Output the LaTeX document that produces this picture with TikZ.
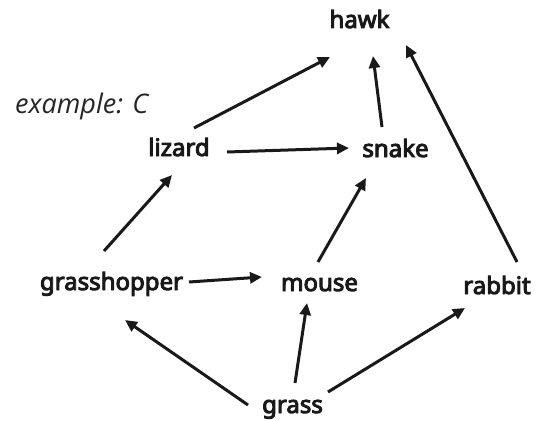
\documentclass[tikz,border=0pt]{standalone}
\usepackage{fontspec}
\setmainfont{Noto Sans}[BoldFont={Noto Sans}, BoldFeatures={FakeBold=4}]
\newfontfamily\exfont{Open Sans}
\usetikzlibrary{arrows.meta}
\tikzset{
  lbl/.style={anchor=base, inner sep=0pt, font=\fontsize{24}{28}\selectfont\bfseries, text=black!90},
  arr/.style={line width=3pt, -{Triangle[length=12pt,width=11pt]}, black!90},
}
\begin{document}
\begin{tikzpicture}[x=1pt,y=-1pt]
\useasboundingbox[fill=white] (0,0) rectangle (543,420);
\node[anchor=base west, inner sep=0pt, font=\exfont\fontsize{27}{32}\selectfont\itshape, text=black!85] (ex) at (15,113) {example: C};
\node[lbl] (hawk) at (359.5,28) {hawk};
\node[lbl] (lizard) at (179,156) {lizard};
\node[lbl] (snake) at (395.5,157) {snake};
\node[lbl] (grasshopper) at (111.5,290) {grasshopper};
\node[lbl] (mouse) at (319.5,291) {mouse};
\node[lbl] (rabbit) at (497,294) {rabbit};
\node[lbl] (grass) at (292.5,413) {grass};
\draw[arr] ([shift={(15,-28)}]lizard.base) -- ([shift={(-29.5,29)}]hawk.base);
\draw[arr] ([shift={(-13.5,-30)}]snake.base) -- ([shift={(13.5,28)}]hawk.base);
\draw[arr] ([shift={(20,-32)}]rabbit.base) -- ([shift={(46.5,17)}]hawk.base);
\draw[arr] ([shift={(48,-4)}]lizard.base) -- ([shift={(-46.5,-9)}]snake.base);
\draw[arr] ([shift={(-7.5,-39)}]grasshopper.base) -- ([shift={(-7,19)}]lizard.base);
\draw[arr] ([shift={(-1.5,-29)}]mouse.base) -- ([shift={(-29.5,21)}]snake.base);
\draw[arr] ([shift={(77.5,-8)}]grasshopper.base) -- ([shift={(-57.5,-14)}]mouse.base);
\draw[arr] ([shift={(-44.5,-8)}]grass.base) -- ([shift={(13.5,30)}]grasshopper.base);
\draw[arr] ([shift={(2.5,-30)}]grass.base) -- ([shift={(-12.5,12)}]mouse.base);
\draw[arr] ([shift={(35.5,-21)}]grass.base) -- ([shift={(-32,14)}]rabbit.base);
\end{tikzpicture}
\end{document}
